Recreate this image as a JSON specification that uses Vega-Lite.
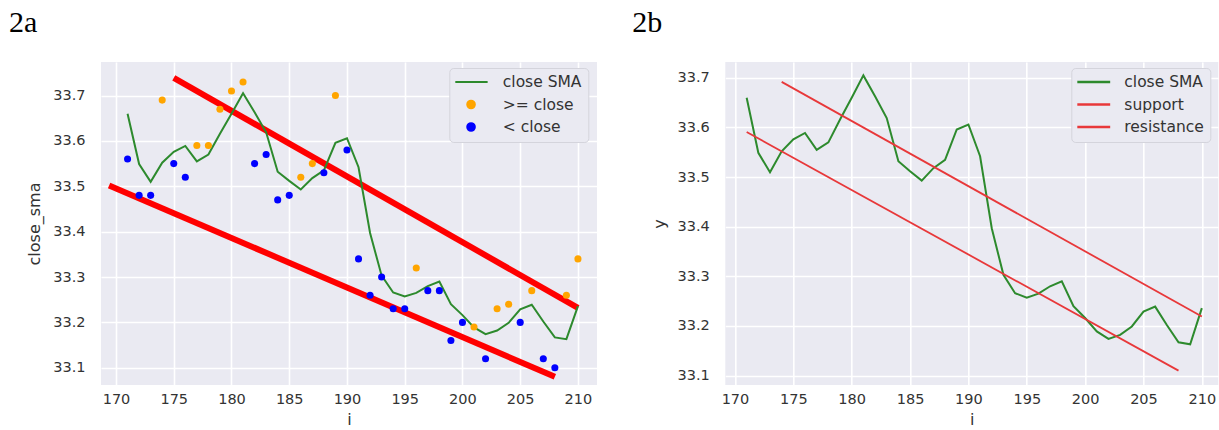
{
  "$schema": "https://vega.github.io/schema/vega-lite/v6.json",
  "background": "white",
  "padding": {"left": 9, "top": 8, "right": 0, "bottom": 0},
  "bounds": "flush",
  "spacing": 128.3,
  "config": {
    "view": {"fill": "#EAEAF2", "stroke": null},
    "axis": {
      "domain": false,
      "ticks": false,
      "gridColor": "#ffffff",
      "gridWidth": 1.6,
      "labelFont": "DejaVu Sans",
      "labelFontSize": 14.5,
      "labelColor": "#333333",
      "titleFont": "DejaVu Sans",
      "titleFontSize": 16,
      "titleFontWeight": "normal",
      "titleColor": "#333333"
    },
    "axisX": {"labelPadding": 7, "titlePadding": 6},
    "axisY": {"labelPadding": 16, "titlePadding": 10},
    "legend": {
      "orient": "none",
      "title": null,
      "padding": 6,
      "fillColor": "#EAEAF2",
      "strokeColor": "#d4d4dc",
      "cornerRadius": 4,
      "labelFont": "DejaVu Sans",
      "labelFontSize": 15.5,
      "labelColor": "#333333",
      "symbolSize": 64,
      "symbolStrokeWidth": 2.2,
      "clipHeight": 16,
      "rowPadding": 5.5
    },
    "title": {
      "anchor": "start",
      "frame": "group",
      "font": "Liberation Serif",
      "fontSize": 30,
      "fontWeight": "normal",
      "color": "#000000",
      "baseline": "alphabetic",
      "offset": 24
    }
  },
  "datasets": {
    "sma": [
      {"i": 171, "close_sma": 33.660, "series": "close SMA"},
      {"i": 172, "close_sma": 33.549, "series": "close SMA"},
      {"i": 173, "close_sma": 33.510, "series": "close SMA"},
      {"i": 174, "close_sma": 33.552, "series": "close SMA"},
      {"i": 175, "close_sma": 33.576, "series": "close SMA"},
      {"i": 176, "close_sma": 33.589, "series": "close SMA"},
      {"i": 177, "close_sma": 33.555, "series": "close SMA"},
      {"i": 178, "close_sma": 33.570, "series": "close SMA"},
      {"i": 179, "close_sma": 33.616, "series": "close SMA"},
      {"i": 180, "close_sma": 33.660, "series": "close SMA"},
      {"i": 181, "close_sma": 33.705, "series": "close SMA"},
      {"i": 182, "close_sma": 33.663, "series": "close SMA"},
      {"i": 183, "close_sma": 33.619, "series": "close SMA"},
      {"i": 184, "close_sma": 33.532, "series": "close SMA"},
      {"i": 185, "close_sma": 33.512, "series": "close SMA"},
      {"i": 186, "close_sma": 33.493, "series": "close SMA"},
      {"i": 187, "close_sma": 33.518, "series": "close SMA"},
      {"i": 188, "close_sma": 33.535, "series": "close SMA"},
      {"i": 189, "close_sma": 33.596, "series": "close SMA"},
      {"i": 190, "close_sma": 33.606, "series": "close SMA"},
      {"i": 191, "close_sma": 33.542, "series": "close SMA"},
      {"i": 192, "close_sma": 33.397, "series": "close SMA"},
      {"i": 193, "close_sma": 33.303, "series": "close SMA"},
      {"i": 194, "close_sma": 33.266, "series": "close SMA"},
      {"i": 195, "close_sma": 33.257, "series": "close SMA"},
      {"i": 196, "close_sma": 33.265, "series": "close SMA"},
      {"i": 197, "close_sma": 33.280, "series": "close SMA"},
      {"i": 198, "close_sma": 33.290, "series": "close SMA"},
      {"i": 199, "close_sma": 33.240, "series": "close SMA"},
      {"i": 200, "close_sma": 33.216, "series": "close SMA"},
      {"i": 201, "close_sma": 33.189, "series": "close SMA"},
      {"i": 202, "close_sma": 33.174, "series": "close SMA"},
      {"i": 203, "close_sma": 33.182, "series": "close SMA"},
      {"i": 204, "close_sma": 33.199, "series": "close SMA"},
      {"i": 205, "close_sma": 33.229, "series": "close SMA"},
      {"i": 206, "close_sma": 33.239, "series": "close SMA"},
      {"i": 207, "close_sma": 33.202, "series": "close SMA"},
      {"i": 208, "close_sma": 33.167, "series": "close SMA"},
      {"i": 209, "close_sma": 33.163, "series": "close SMA"},
      {"i": 210, "close_sma": 33.236, "series": "close SMA"}
    ],
    "closes": [
      {"i": 171, "close": 33.56, "series": "< close"},
      {"i": 172, "close": 33.48, "series": "< close"},
      {"i": 173, "close": 33.48, "series": "< close"},
      {"i": 174, "close": 33.69, "series": ">= close"},
      {"i": 175, "close": 33.55, "series": "< close"},
      {"i": 176, "close": 33.52, "series": "< close"},
      {"i": 177, "close": 33.59, "series": ">= close"},
      {"i": 178, "close": 33.59, "series": ">= close"},
      {"i": 179, "close": 33.67, "series": ">= close"},
      {"i": 180, "close": 33.71, "series": ">= close"},
      {"i": 181, "close": 33.73, "series": ">= close"},
      {"i": 182, "close": 33.55, "series": "< close"},
      {"i": 183, "close": 33.57, "series": "< close"},
      {"i": 184, "close": 33.47, "series": "< close"},
      {"i": 185, "close": 33.48, "series": "< close"},
      {"i": 186, "close": 33.52, "series": ">= close"},
      {"i": 187, "close": 33.55, "series": ">= close"},
      {"i": 188, "close": 33.53, "series": "< close"},
      {"i": 189, "close": 33.70, "series": ">= close"},
      {"i": 190, "close": 33.58, "series": "< close"},
      {"i": 191, "close": 33.34, "series": "< close"},
      {"i": 192, "close": 33.26, "series": "< close"},
      {"i": 193, "close": 33.30, "series": "< close"},
      {"i": 194, "close": 33.23, "series": "< close"},
      {"i": 195, "close": 33.23, "series": "< close"},
      {"i": 196, "close": 33.32, "series": ">= close"},
      {"i": 197, "close": 33.27, "series": "< close"},
      {"i": 198, "close": 33.27, "series": "< close"},
      {"i": 199, "close": 33.16, "series": "< close"},
      {"i": 200, "close": 33.20, "series": "< close"},
      {"i": 201, "close": 33.19, "series": ">= close"},
      {"i": 202, "close": 33.12, "series": "< close"},
      {"i": 203, "close": 33.23, "series": ">= close"},
      {"i": 204, "close": 33.24, "series": ">= close"},
      {"i": 205, "close": 33.20, "series": "< close"},
      {"i": 206, "close": 33.27, "series": ">= close"},
      {"i": 207, "close": 33.12, "series": "< close"},
      {"i": 208, "close": 33.10, "series": "< close"},
      {"i": 209, "close": 33.26, "series": ">= close"},
      {"i": 210, "close": 33.34, "series": ">= close"}
    ],
    "trendA": [
      {"line": "upper", "i": 175, "close_sma": 33.739},
      {"line": "upper", "i": 210, "close_sma": 33.232},
      {"line": "lower", "i": 169.4, "close_sma": 33.502},
      {"line": "lower", "i": 208, "close_sma": 33.080}
    ],
    "trendB": [
      {"series": "support", "i": 171, "y": 33.591},
      {"series": "support", "i": 208, "y": 33.110},
      {"series": "resistance", "i": 174, "y": 33.692},
      {"series": "resistance", "i": 210, "y": 33.219}
    ]
  },
  "resolve": {
    "scale": {"x": "independent", "y": "independent", "color": "independent"},
    "legend": {"color": "independent"}
  },
  "hconcat": [
    {
      "width": 496,
      "height": 323,
      "title": {"text": "2a", "dx": -92},
      "encoding": {
        "x": {
          "field": "i",
          "type": "quantitative",
          "title": "i",
          "scale": {"domain": [168.7, 211.65], "nice": false, "zero": false},
          "axis": {"values": [170, 175, 180, 185, 190, 195, 200, 205, 210], "format": "d"}
        }
      },
      "layer": [
        {
          "data": {"name": "trendA"},
          "mark": {"type": "line", "color": "#ff0000", "strokeWidth": 6, "strokeCap": "butt"},
          "encoding": {
            "y": {
              "field": "close_sma",
              "type": "quantitative",
              "title": "close_sma",
              "scale": {"domain": [33.062, 33.774], "nice": false, "zero": false},
              "axis": {"values": [33.1, 33.2, 33.3, 33.4, 33.5, 33.6, 33.7], "format": ".1f"}
            },
            "detail": {"field": "line"}
          }
        },
        {
          "data": {"name": "sma"},
          "mark": {"type": "line", "strokeWidth": 2},
          "encoding": {
            "y": {"field": "close_sma", "type": "quantitative", "title": "close_sma"},
            "color": {
              "field": "series",
              "type": "nominal",
              "scale": {"domain": ["close SMA", ">= close", "< close"], "range": ["#2d8a2d", "#ffa500", "#0000ff"]},
              "legend": {
                "legendX": 348.3,
                "legendY": 6,
                "symbolOffset": 8,
                "labelOffset": 24,
                "encode": {
                  "symbols": {
                    "update": {
                      "shape": {"signal": "datum.value === 'close SMA' ? 'stroke' : 'circle'"},
                      "size": {"signal": "datum.value === 'close SMA' ? 1100 : 55"},
                      "fill": {"signal": "datum.value === '>= close' ? '#ffa500' : datum.value === '< close' ? '#0000ff' : 'transparent'"},
                      "stroke": {"signal": "datum.value === 'close SMA' ? '#2d8a2d' : 'transparent'"},
                      "strokeWidth": {"value": 2.2},
                      "opacity": {"value": 1}
                    }
                  }
                }
              }
            }
          }
        },
        {
          "data": {"name": "closes"},
          "mark": {"type": "circle", "size": 50, "opacity": 1},
          "encoding": {
            "y": {"field": "close", "type": "quantitative", "title": "close_sma"},
            "color": {"field": "series", "type": "nominal"}
          }
        }
      ]
    },
    {
      "width": 493,
      "height": 323,
      "title": {"text": "2b", "dx": -93},
      "encoding": {
        "x": {
          "field": "i",
          "type": "quantitative",
          "title": "i",
          "scale": {"domain": [169.17, 211.41], "nice": false, "zero": false},
          "axis": {"values": [170, 175, 180, 185, 190, 195, 200, 205, 210], "format": "d"}
        },
        "y": {
          "field": "y",
          "type": "quantitative",
          "title": "y",
          "scale": {"domain": [33.081, 33.732], "nice": false, "zero": false},
          "axis": {"values": [33.1, 33.2, 33.3, 33.4, 33.5, 33.6, 33.7], "format": ".1f"}
        },
        "color": {
          "field": "series",
          "type": "nominal",
          "scale": {"domain": ["close SMA", "support", "resistance"], "range": ["#2d8a2d", "#e8383a", "#e8383a"]},
          "legend": {
            "legendX": 346,
            "legendY": 6,
            "symbolOffset": -1.7,
            "labelOffset": 12.7,
            "encode": {
              "symbols": {
                "update": {
                  "shape": {"value": "stroke"},
                  "size": {"value": 1100},
                  "strokeWidth": {"value": 2.6},
                  "opacity": {"value": 1}
                }
              }
            }
          }
        }
      },
      "layer": [
        {
          "data": {"name": "sma"},
          "transform": [{"calculate": "datum.close_sma", "as": "y"}],
          "mark": {"type": "line", "strokeWidth": 2}
        },
        {
          "data": {"name": "trendB"},
          "mark": {"type": "line", "strokeWidth": 1.8}
        }
      ]
    }
  ]
}
